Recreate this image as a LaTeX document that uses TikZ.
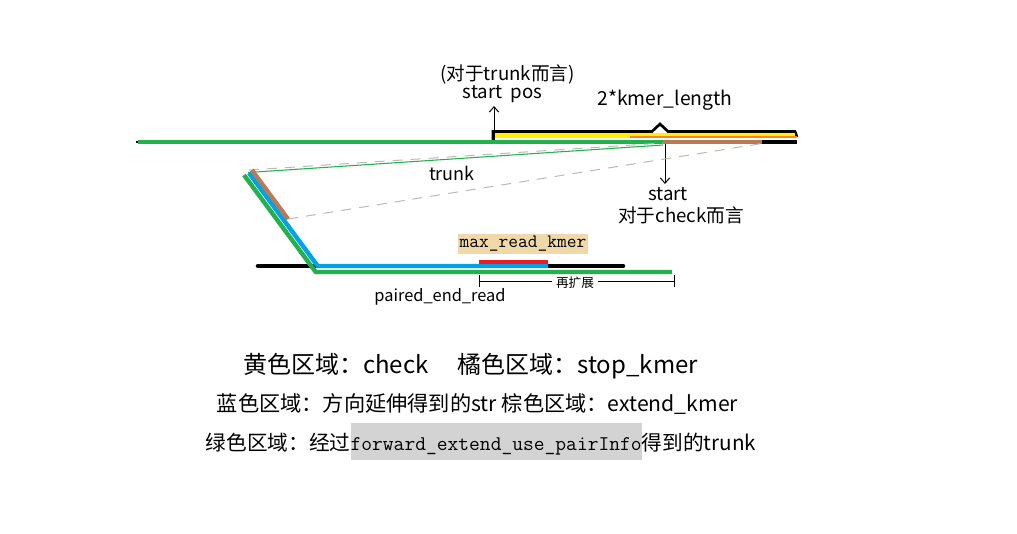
\documentclass[tikz,border=0pt]{standalone}
\usepackage{fontspec}
\usetikzlibrary{arrows.meta}
\setmainfont{Noto Sans CJK SC}
\definecolor{pgreen}{RGB}{34,177,76}
\definecolor{pyellow}{RGB}{255,242,0}
\definecolor{porange}{RGB}{255,127,39}
\definecolor{pbrown}{RGB}{185,122,87}
\definecolor{pblue}{RGB}{0,162,232}
\definecolor{pred}{RGB}{237,28,36}
\definecolor{tanbg}{RGB}{240,217,168}
\definecolor{hlgray}{RGB}{211,211,211}
\definecolor{dashgray}{RGB}{185,185,185}
\begin{document}
\begin{tikzpicture}[x=0.75pt,y=-0.75pt,
  bar/.style={line width=3.4pt},
  thinbar/.style={line width=1.6pt},
  guide/.style={dashgray,line width=0.75pt,dash pattern=on 7.5pt off 6pt},
  pointer/.style={line width=0.75pt,-{Straight Barb[length=4pt,width=7pt]}},
  lbl/.style={inner sep=0pt,font=\fontsize{14}{16}\selectfont},
  legend/.style={inner sep=0pt},
]
\useasboundingbox (0,0) rectangle (1017,533);

% ---- top trunk ----
\draw[line width=2pt] (493,141) -- (493,131.5) -- (652,131.5) -- (660,124) -- (668,131.5) -- (795,131.5) -- (797,137);
\draw[bar,pyellow] (494.5,135.6) -- (795,135.6);
\draw[thinbar,porange] (630,137.2) -- (797,137.2);
\draw[line width=2pt,black] (136,142) -- (140,142);
\draw[bar,pgreen] (138,142) -- (663,142);
\draw[bar,pbrown] (663,142) -- (762,142);
\draw[bar,black] (762,142) -- (797,142);

\coordinate (sp) at (494,140);
\coordinate (spt) at (494,106);
\draw[pointer] (sp) -- (spt);
\coordinate (st) at (665,144);
\coordinate (stt) at (665,184);
\draw[pointer] (st) -- (stt);

% ---- guide lines ----
\coordinate (d1a) at (249,170);
\coordinate (d1b) at (663,143);
\coordinate (d2a) at (288,219);
\coordinate (d2b) at (765,143);
\draw[guide] (d1a) -- (d1b);
\draw[guide] (d2a) -- (d2b);
\draw[pgreen,line width=0.8pt] (248,172.5) -- (663,145);

% ---- paired end read ----
\draw[bar,black,line cap=round] (258,266) -- (623,266);
\draw[line width=3.3pt,pgreen] (244,175) -- (315.7,272) -- (672,272);
\draw[line width=3.3pt,pblue] (249,173) -- (317.7,266) -- (548,266);
\draw[line width=3.3pt,pbrown] (251.8,170) -- (288,219);
\draw[line width=3pt,pred] (479,261.5) -- (548,261.5);

% ---- extension dimension ----
\coordinate (ea) at (479,281);
\coordinate (eb) at (674,281);
\draw[line width=0.75pt] (ea) -- (eb);
\draw[line width=0.75pt] (479,275) -- (479,287);
\draw[line width=0.75pt] (674,275) -- (674,287);
\node[fill=white,inner xsep=3pt,inner ysep=0pt,font=\fontsize{9.5}{10}\selectfont] (ext) at (575,283) {再扩展};

% ---- labels ----
\node[lbl] (tr) at (507.5,74) {(对于trunk而言)};
\node[lbl] (spl) at (502.5,94) {start\ \ pos};
\node[lbl,font=\fontsize{14.5}{16}\selectfont] (kl) at (665,100) {2*kmer\_length};
\node[lbl] (stl) at (668,194) {start};
\node[lbl] (stc) at (681,215) {对于check而言};
\node[lbl,font=\fontsize{13.5}{16}\selectfont] (trk) at (452,173) {trunk};
\node[fill=tanbg,inner xsep=1pt,inner ysep=2pt,minimum height=13.5pt,font=\ttfamily\fontsize{14.2}{15}\selectfont] (mrk) at (523,244) {max\_read\_kmer};
\node[lbl,font=\fontsize{12.3}{14}\selectfont] (per) at (440,297) {paired\_end\_read};

% ---- legend ----
\node[legend,font=\fontsize{18}{20}\selectfont] (lg1) at (470.5,366) {黄色区域：check\hspace{1.2em}橘色区域：stop\_kmer};
\node[legend,font=\fontsize{15.9}{18}\selectfont] (lg2) at (477.5,404) {蓝色区域：方向延伸得到的str 棕色区域：extend\_kmer};
\node[legend,font=\fontsize{15.5}{18}\selectfont,anchor=base] (lg3) at (481,450) {绿色区域：经过{\setlength\fboxsep{0pt}\colorbox{hlgray}{\rule[-7.5pt]{0pt}{27.75pt}\ttfamily\fontsize{15.7}{17}\selectfont forward\_extend\_use\_pairInfo}}得到的trunk};
\end{tikzpicture}
\end{document}
